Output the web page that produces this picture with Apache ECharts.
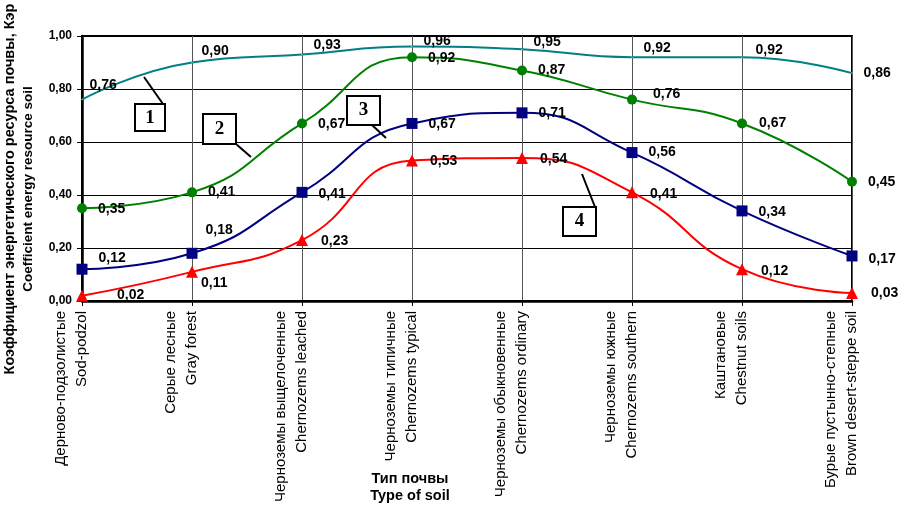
<!DOCTYPE html>
<html>
<head>
<meta charset="utf-8">
<script src="https://cdn.jsdelivr.net/npm/echarts@6/dist/echarts.min.js"></script>
<style>
html,body{margin:0;padding:0;background:#fff;}
#chart{width:899px;height:505px;}
</style>
</head>
<body>
<div id="chart"></div>
<script>
// ---- data ----
const categoriesRu = ['Дерново-подзолистые','Серые лесные','Черноземы выщелоченные','Черноземы типичные','Черноземы обыкновенные','Черноземы южные','Каштановые','Бурые пустынно-степные'];
const categoriesEn = ['Sod-podzol','Gray forest','Chernozems leached','Chernozems typical','Chernozems ordinary','Chernozems southern','Chestnut soils','Brown desert-steppe soil'];
const series1 = [0.76, 0.90, 0.93, 0.96, 0.95, 0.92, 0.92, 0.86];
const series2 = [0.35, 0.41, 0.67, 0.92, 0.87, 0.76, 0.67, 0.45];
const series3 = [0.12, 0.18, 0.41, 0.67, 0.71, 0.56, 0.34, 0.17];
const series4 = [0.02, 0.11, 0.23, 0.53, 0.54, 0.41, 0.12, 0.03];
const yTicks = [0, 0.2, 0.4, 0.6, 0.8, 1.0];

// ---- label offsets (style only) ----
const off1 = [[6,-14],[8,-11],[10,-9],[10,-5],[10,-7],[10,-9],[12,-7],[10,0]];
const off2 = [[11,1],[11,0],[11,1],[11,1],[11,0],[16,-5],[12,0],[11,0]];
const off3 = [[11,-11],[8,-23],[11,2],[11,1],[11,0],[11,0],[11,1],[11,3]];
const off4 = [[29,-1],[3,11],[13,1],[12,1],[12,1],[12,2],[13,2],[13,0]];

const fmt = v => v.toFixed(2).replace('.', ',');
const labelFont = {color:'#000', fontFamily:'Arial, "Liberation Sans", sans-serif', fontWeight:'bold', fontSize:14};

function withLabels(vals, offs){
  return vals.map((v,i)=>({value:v, label:{offset:offs[i]}}));
}
function mkSeries(name, vals, offs, color, symbol, size){
  return {
    name, type:'line', smooth:0.5, data:withLabels(vals, offs),
    symbol, symbolSize:size, showSymbol:true,
    lineStyle:{color, width:2},
    itemStyle:{color: symbol==='emptyCircle' ? 'rgba(0,0,0,0)' : color},
    label:Object.assign({show:true, position:'right', distance:0, formatter:p=>fmt(p.value)}, labelFont),
    emphasis:{disabled:true}, animation:false
  };
}

const chart = echarts.init(document.getElementById('chart'));
const option = {
  backgroundColor:'#fff',
  animation:false,
  grid:{left:82, right:47, top:36, bottom:203, show:true, borderColor:'#000', borderWidth:2, backgroundColor:'rgba(0,0,0,0)'},
  xAxis:{
    type:'category', boundaryGap:false,
    data: categoriesRu.map((r,i)=>r+'\n'+categoriesEn[i]+'\n '),
    axisLine:{lineStyle:{color:'#000', width:2.5}},
    axisTick:{show:true, length:5, interval:0, lineStyle:{color:'#000', width:1}},
    splitLine:{show:true, interval:0, lineStyle:{color:'#555', width:1}},
    axisLabel:{interval:0, rotate:90, margin:10, color:'#000', fontFamily:'Arial, "Liberation Sans", sans-serif', fontSize:15, lineHeight:21}
  },
  yAxis:{
    type:'value', min:0, max:1, interval:0.2,
    axisLine:{show:true, lineStyle:{color:'#000', width:2.5}},
    axisTick:{show:true, length:5, lineStyle:{color:'#000'}},
    splitLine:{show:true, lineStyle:{color:'#000', width:1}},
    axisLabel:{margin:10, color:'#000', fontFamily:'Arial, "Liberation Sans", sans-serif', fontWeight:'bold', fontSize:12,
      formatter:v=>fmt(v), customValues: yTicks}
  },
  series:[
    mkSeries('1', series1, off1, '#008080', 'emptyCircle', 1),
    mkSeries('2', series2, off2, '#008000', 'circle', 10),
    mkSeries('3', series3, off3, '#000080', 'rect', 11),
    mkSeries('4', series4, off4, '#ff0000', 'triangle', 12)
  ],
  graphic:[
    {type:'text', x:10, y:189, rotation:Math.PI/2, z:100,
      style:{text:'Коэффициент энергетического ресурса почвы, Кэр',
        align:'center', verticalAlign:'middle',
        font:'bold 14.5px Arial, "Liberation Sans", sans-serif', fill:'#000'}},
    {type:'text', x:28, y:189, rotation:Math.PI/2, z:100,
      style:{text:'Coefficient energy resource soil',
        align:'center', verticalAlign:'middle',
        font:'bold 13.5px Arial, "Liberation Sans", sans-serif', fill:'#000'}},
    {type:'text', x:410, y:487, z:100,
      style:{text:'Тип почвы\nType of soil', align:'center', verticalAlign:'middle', lineHeight:17,
        font:'bold 14.5px Arial, "Liberation Sans", sans-serif', fill:'#000'}},
    // callouts
    {type:'line', z:100, shape:{x1:144,y1:77,x2:163,y2:104}, style:{stroke:'#000', lineWidth:2}},
    {type:'rect', z:100, shape:{x:135,y:104,width:30,height:27}, style:{fill:'#fff', stroke:'#000', lineWidth:2}},
    {type:'text', z:101, x:150, y:118, style:{text:'1', align:'center', verticalAlign:'middle', font:'bold 19px "Liberation Serif", "Times New Roman", serif', fill:'#000'}},

    {type:'line', z:100, shape:{x1:236,y1:144,x2:251,y2:157}, style:{stroke:'#000', lineWidth:2}},
    {type:'rect', z:100, shape:{x:203,y:114,width:33,height:30}, style:{fill:'#fff', stroke:'#000', lineWidth:2}},
    {type:'text', z:101, x:219.5, y:129, style:{text:'2', align:'center', verticalAlign:'middle', font:'bold 19px "Liberation Serif", "Times New Roman", serif', fill:'#000'}},

    {type:'line', z:100, shape:{x1:372,y1:125,x2:386,y2:138}, style:{stroke:'#000', lineWidth:2}},
    {type:'rect', z:100, shape:{x:347,y:96,width:33,height:29}, style:{fill:'#fff', stroke:'#000', lineWidth:2}},
    {type:'text', z:101, x:363.5, y:110.5, style:{text:'3', align:'center', verticalAlign:'middle', font:'bold 19px "Liberation Serif", "Times New Roman", serif', fill:'#000'}},

    {type:'line', z:100, shape:{x1:595,y1:207,x2:582,y2:174}, style:{stroke:'#000', lineWidth:2}},
    {type:'rect', z:100, shape:{x:563,y:207,width:33,height:29}, style:{fill:'#fff', stroke:'#000', lineWidth:2}},
    {type:'text', z:101, x:579.5, y:221.5, style:{text:'4', align:'center', verticalAlign:'middle', font:'bold 19px "Liberation Serif", "Times New Roman", serif', fill:'#000'}}
  ]
};
chart.setOption(option);
</script>
</body>
</html>
